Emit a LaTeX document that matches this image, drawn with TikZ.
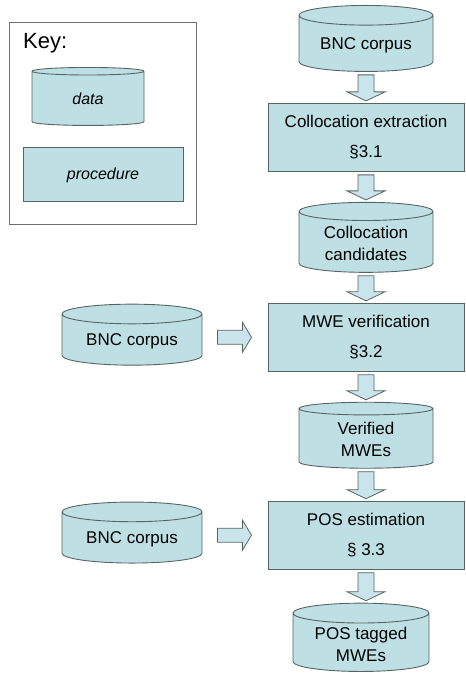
\documentclass[tikz,border=0pt]{standalone}
\usepackage{fontspec}
\setmainfont{Liberation Sans}
\usetikzlibrary{shapes.geometric,positioning,calc}

\definecolor{boxfill}{RGB}{190,224,228}
\definecolor{arrowfill}{RGB}{202,228,236}
\definecolor{edgegray}{RGB}{88,100,100}
\definecolor{keygray}{RGB}{110,110,110}

% block arrow: start, tip, half shaft width, half head width
\newcommand{\fatarrow}[4]{%
  \draw[fatarrow] ($(#1)!#3!90:(#2)$) -- ($($(#2)!9pt!(#1)$)!#3!90:(#2)$)
    -- ($($(#2)!9pt!(#1)$)!#4!90:(#2)$) -- (#2)
    -- ($($(#2)!9pt!(#1)$)!#4!-90:(#2)$) -- ($($(#2)!9pt!(#1)$)!#3!-90:(#2)$)
    -- ($(#1)!#3!-90:(#2)$) -- cycle;}

\begin{document}
\begin{tikzpicture}[x=1pt,y=1pt,node distance=31pt,
    datastore/.style={cylinder,shape border rotate=90,aspect=0.2,draw=edgegray,
      fill=boxfill,line width=0.9pt,minimum width=134pt,minimum height=66pt,
      align=center,font=\fontsize{17}{22}\selectfont},
    procbox/.style={rectangle,draw=edgegray,fill=boxfill,line width=1pt,
      minimum width=196pt,minimum height=68pt,align=center,
      font=\fontsize{17}{22}\selectfont},
    fatarrow/.style={draw=edgegray,fill=arrowfill,line width=0.8pt,line join=miter}]
  \useasboundingbox (0,0) rectangle (466,673);

  % key
  \node[draw=keygray,line width=0.6pt,minimum width=187pt,minimum height=202pt] (key) at (102.5,550) {};
  \node[anchor=base west,inner sep=0pt,font=\fontsize{22}{26}\selectfont] (keylbl) at (23,624) {Key:};
  \node[datastore,minimum width=112pt,minimum height=58pt,anchor=north,
        font=\fontsize{16}{19}\selectfont\itshape] (keydata) at (88,606) {data};
  \node[procbox,minimum width=160pt,minimum height=54pt,
        font=\fontsize{16}{19}\selectfont\itshape] (keyproc) at (103,498) {procedure};

  % main chain
  \node[datastore,anchor=north]      (bnc) at (366,668) {BNC corpus};
  \node[procbox]                     (extract) [below=of bnc] {Collocation extraction\\[8pt]§3.1};
  \node[datastore,minimum height=70pt] (cand) [below=30pt of extract] {Collocation\\candidates};
  \node[procbox]                     (verify) [below=30pt of cand] {MWE verification\\[8pt]§3.2};
  \node[datastore]                   (verified) [below=30pt of verify] {Verified\\MWEs};
  \node[procbox]                     (posest) [below=32pt of verified] {POS estimation\\[8pt]§ 3.3};
  \node[datastore,minimum width=136pt] (tagged) [below=33pt of posest,xshift=-5pt] {POS tagged\\MWEs};

  % side inputs
  \node[datastore,minimum width=140pt,minimum height=61pt] (bncver) [left=65pt of verify,yshift=-4pt] {BNC corpus};
  \node[datastore,minimum width=140pt,minimum height=61pt] (bncpos) [left=65pt of posest,yshift=-4pt] {BNC corpus};

  \fatarrow{[yshift=-3pt]bnc.south}{[yshift=2pt]extract.north}{8pt}{19pt}
  \fatarrow{[yshift=-3pt]extract.south}{[yshift=2pt]cand.north}{8pt}{19pt}
  \fatarrow{[yshift=-3pt]cand.south}{[yshift=2pt]verify.north}{8pt}{19pt}
  \fatarrow{[yshift=-3pt]verify.south}{[yshift=2pt]verified.north}{8pt}{19pt}
  \fatarrow{[yshift=-3pt]verified.south}{[yshift=2pt]posest.north}{8pt}{19pt}
  \fatarrow{[yshift=-3pt]posest.south}{[yshift=2pt,xshift=5pt]tagged.north}{8pt}{19pt}
  \fatarrow{[xshift=15pt]bncver.east |- verify.west}{[xshift=-16pt]verify.west}{7pt}{15pt}
  \fatarrow{[xshift=15pt]bncpos.east |- posest.west}{[xshift=-16pt]posest.west}{7pt}{15pt}
\end{tikzpicture}
\end{document}
